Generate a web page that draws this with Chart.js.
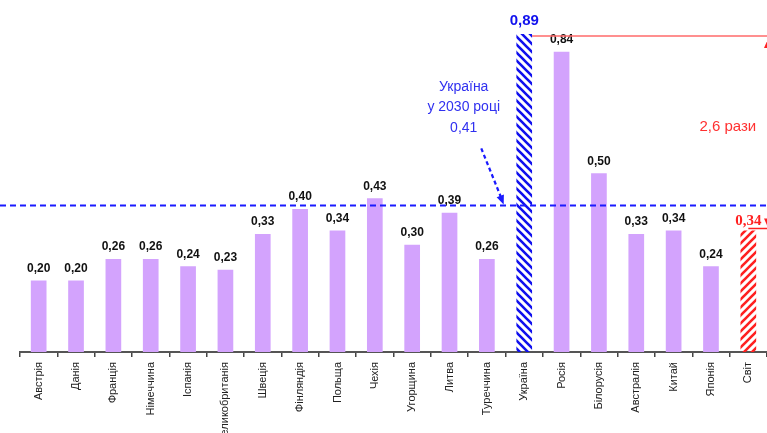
<!DOCTYPE html>
<html>
<head>
<meta charset="utf-8">
<script src="https://cdn.jsdelivr.net/npm/chart.js@4/dist/chart.umd.min.js"></script>
<style>
  html, body { margin: 0; padding: 0; background: #fff; }
  #wrap { width: 767px; height: 433px; position: relative; }
</style>
</head>
<body>
<div id="wrap"><canvas id="chart"></canvas></div>
<script>
"use strict";

const countries = ["Австрія", "Данія", "Франція", "Німеччина", "Іспанія", "Великобританія",
    "Швеція", "Фінляндія", "Польща", "Чехія", "Угорщина", "Литва", "Туреччина",
    "Україна", "Росія", "Білорусія", "Австралія", "Китай", "Японія", "Світ"];
const intensity = [0.20, 0.20, 0.26, 0.26, 0.24, 0.23, 0.33, 0.40, 0.34, 0.43,
    0.30, 0.39, 0.26, 0.89, 0.84, 0.50, 0.33, 0.34, 0.24, 0.34];
const ukraineTarget = 0.41;
const targetLines = ["Україна", "у 2030 році", "0,41"];
const ratioText = "2,6 рази";

const ukraineIdx = countries.indexOf("Україна");
const worldIdx = countries.indexOf("Світ");

// diagonal stripes, forward = "/" direction
function hatch(color, forward) {
    const n = 8;
    const c = document.createElement("canvas");
    c.width = n; c.height = n;
    const g = c.getContext("2d");
    g.strokeStyle = color;
    g.lineWidth = 2.6;
    g.beginPath();
    for (let k = -1; k <= 1; k++) {
        if (forward) {
            g.moveTo(k * n - 1, n + 1); g.lineTo(k * n + n + 1, -1);
        } else {
            g.moveTo(k * n - 1, -1); g.lineTo(k * n + n + 1, n + 1);
        }
    }
    g.stroke();
    return g.createPattern(c, "repeat");
}

const fmt = v => v.toFixed(2).replace(".", ",");

const barColors = countries.map((c, i) => {
    if (i === ukraineIdx) return hatch("#1010ee", false);
    if (i === worldIdx) return hatch("#ff2020", true);
    return "#d3a3fd";
});

const overlay = {
    id: "overlay",
    afterDatasetsDraw(chart) {
        const ctx = chart.ctx;
        const x = chart.scales.x, y = chart.scales.y;
        const area = chart.chartArea;
        const bars = chart.getDatasetMeta(0).data;
        const step = x.getPixelForValue(1) - x.getPixelForValue(0);
        const px = (i, f) => x.getPixelForValue(i) + f * step;

        // value labels
        ctx.save();
        ctx.textAlign = "center";
        ctx.textBaseline = "bottom";
        bars.forEach((bar, i) => {
            if (i === ukraineIdx) {
                ctx.font = "bold 15px 'Liberation Sans'";
                ctx.fillStyle = "#1010ee";
                ctx.fillText(fmt(intensity[i]), bar.x, bar.y - 6);
            } else if (i === worldIdx) {
                ctx.font = "bold 15px 'Liberation Serif'";
                ctx.fillStyle = "#ff2020";
                ctx.fillText(fmt(intensity[i]), bar.x, bar.y - 2);
            } else {
                ctx.font = "bold 12px 'Liberation Sans'";
                ctx.fillStyle = "#111";
                ctx.fillText(fmt(intensity[i]), bar.x, bar.y - 6);
            }
        });

        // target dashed line
        const ty = y.getPixelForValue(ukraineTarget);
        ctx.strokeStyle = "#1a1aff";
        ctx.lineWidth = 2;
        ctx.setLineDash([6, 4]);
        ctx.beginPath();
        ctx.moveTo(0, ty);
        ctx.lineTo(chart.width, ty);
        ctx.stroke();

        // dashed arrow to target line
        const ax0 = px(11, 0.85), ay0 = y.getPixelForValue(0.57);
        const ax1 = px(12, 0.45), ay1 = ty - 1;
        ctx.lineWidth = 2.2;
        ctx.setLineDash([4, 3]);
        ctx.beginPath();
        ctx.moveTo(ax0, ay0);
        ctx.lineTo(ax1 - 3, ay1 - 8);
        ctx.stroke();
        ctx.setLineDash([]);
        const ang = Math.atan2(ay1 - ay0, ax1 - ax0);
        ctx.fillStyle = "#1a1aff";
        ctx.beginPath();
        ctx.moveTo(ax1, ay1);
        ctx.lineTo(ax1 - 10 * Math.cos(ang - 0.4), ay1 - 10 * Math.sin(ang - 0.4));
        ctx.lineTo(ax1 - 10 * Math.cos(ang + 0.4), ay1 - 10 * Math.sin(ang + 0.4));
        ctx.closePath();
        ctx.fill();

        // target annotation text
        ctx.font = "14px 'Liberation Sans'";
        ctx.fillStyle = "#3030f0";
        ctx.textBaseline = "middle";
        targetLines.forEach((t, k) => {
            ctx.fillText(t, px(11, 0.38), y.getPixelForValue(0.742) + k * 20.5);
        });

        // red comparison lines
        const ub = bars[ukraineIdx], wb = bars[worldIdx];
        const topY = y.getPixelForValue(intensity[ukraineIdx]) + 2;
        const lowY = y.getPixelForValue(intensity[worldIdx]) - 2;
        ctx.strokeStyle = "#ff6a6a";
        ctx.lineWidth = 1.5;
        ctx.beginPath();
        ctx.moveTo(ub.x + ub.width / 2, topY);
        ctx.lineTo(chart.width, topY);
        ctx.stroke();
        ctx.strokeStyle = "#ff2020";
        ctx.beginPath();
        ctx.moveTo(wb.x, lowY);
        ctx.lineTo(chart.width, lowY);
        ctx.stroke();

        // double arrow heads at right edge
        const vx = area.right + 1;
        ctx.fillStyle = "#ff2020";
        ctx.beginPath();
        ctx.moveTo(vx, topY + 3);
        ctx.lineTo(vx - 4, topY + 12);
        ctx.lineTo(vx + 4, topY + 12);
        ctx.closePath();
        ctx.fill();
        ctx.beginPath();
        ctx.moveTo(vx, lowY - 1);
        ctx.lineTo(vx - 4, lowY - 10);
        ctx.lineTo(vx + 4, lowY - 10);
        ctx.closePath();
        ctx.fill();

        ctx.font = "15px 'Liberation Sans'";
        ctx.fillStyle = "#ff3030";
        ctx.fillText(ratioText, px(18, 0.45), y.getPixelForValue(0.63));
        ctx.restore();
    }
};

new Chart(document.getElementById("chart"), {
    type: "bar",
    data: {
        labels: countries,
        datasets: [{
            data: intensity,
            backgroundColor: barColors,
            borderWidth: 0,
            barPercentage: 0.42,
            categoryPercentage: 1
        }]
    },
    options: {
        responsive: true,
        maintainAspectRatio: false,
        animation: false,
        layout: { padding: { left: 20, right: 0, top: 0, bottom: 0 } },
        plugins: {
            legend: { display: false },
            tooltip: { enabled: false }
        },
        scales: {
            x: {
                afterFit: s => { s.height = 81; },
                grid: { offset: true, drawOnChartArea: false, tickLength: 5, color: "#444", lineWidth: 1.5 },
                border: { color: "#555", width: 2 },
                ticks: {
                    minRotation: 90, maxRotation: 90, autoSkip: false, padding: 5,
                    color: "#222",
                    font: { family: "'Liberation Sans'", size: 11 }
                }
            },
            y: {
                display: false,
                min: 0,
                max: 0.985
            }
        }
    },
    plugins: [overlay]
});
</script>
</body>
</html>
